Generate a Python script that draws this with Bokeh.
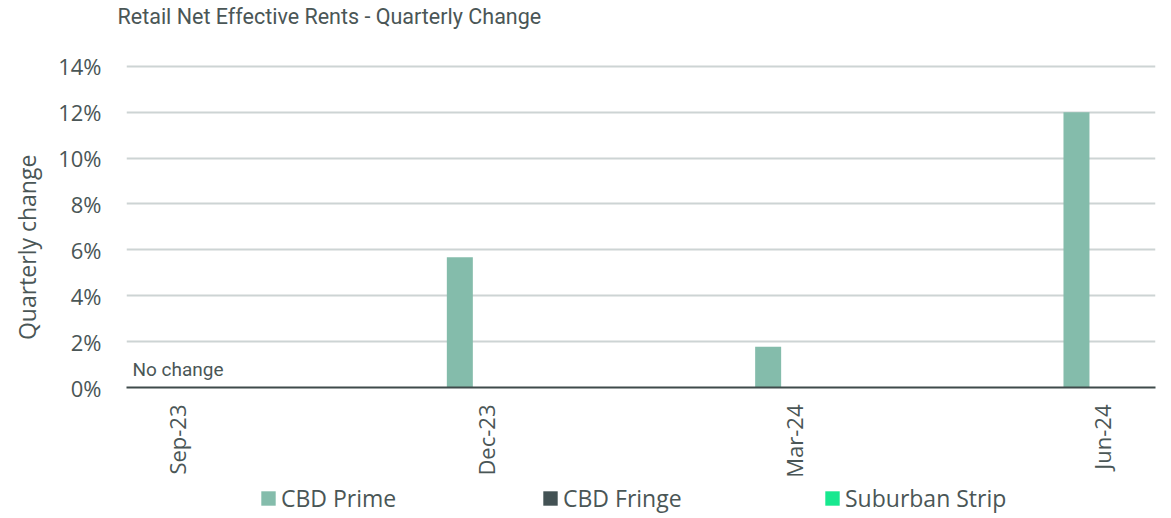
from bokeh.plotting import figure
from bokeh.models import (ColumnDataSource, FixedTicker, NumeralTickFormatter, Legend,
                          LegendItem, Label, Range1d)
from bokeh.layouts import column
from bokeh.embed import file_html
from bokeh.resources import INLINE
import math

quarters = ["Sep-23", "Dec-23", "Mar-24", "Jun-24"]
cbd_prime = [0.0, 0.0568, 0.0178, 0.1200]
cbd_fringe = [0.0, 0.0, 0.0, 0.0]
suburban_strip = [0.0, 0.0, 0.0, 0.0]
y_ticks = [0.0, 0.02, 0.04, 0.06, 0.08, 0.10, 0.12, 0.14]
series_names = ["CBD Prime", "CBD Fringe", "Suburban Strip"]
series_colors = ["#84bcab", "#435254", "#17e88f"]

TXT = "#4a5656"
BW = 0.0843
xs = list(range(len(quarters)))

p = figure(width=1171, height=480, output_backend="svg", toolbar_location=None,
           x_range=Range1d(-0.1654, 3.172), y_range=Range1d(0, 0.15604),
           min_border_left=126, min_border_right=16, min_border_top=27, min_border_bottom=93)
p.outline_line_color = None
p.background_fill_color = "white"

for k, (name, vals, col) in enumerate(zip(series_names, [cbd_prime, cbd_fringe, suburban_strip], series_colors)):
    src = ColumnDataSource(dict(x=[x + (k - 1) * BW for x in xs], top=vals))
    p.vbar(x="x", top="top", width=BW, source=src, fill_color=col, line_color=None)

p.title.text = "Retail Net Effective Rents - Quarterly Change"
p.title.text_font = "Roboto"
p.title.text_font_size = "21.5px"
p.title.text_font_style = "normal"
p.title.text_color = TXT
p.title.align = "left"
p.title.offset = -9
p.title.standoff = 2

p.xgrid.grid_line_color = None
p.ygrid.grid_line_color = "#cdd4d4"
p.ygrid.grid_line_width = 2
p.ygrid.ticker = FixedTicker(ticks=y_ticks)

p.yaxis.ticker = FixedTicker(ticks=y_ticks)
p.yaxis.formatter = NumeralTickFormatter(format="0%")
p.yaxis.axis_line_color = None
p.yaxis.major_tick_line_color = None
p.yaxis.minor_tick_line_color = None
p.yaxis.major_tick_out = 0
p.yaxis.major_label_standoff = 25
p.yaxis.major_label_text_font = "Open Sans"
p.yaxis.major_label_text_font_size = "22px"
p.yaxis.major_label_text_color = TXT
p.yaxis.axis_label = "Quarterly change" + "\u00a0" * 13
p.yaxis.axis_label_text_font = "Open Sans"
p.yaxis.axis_label_text_font_size = "23px"
p.yaxis.axis_label_text_font_style = "normal"
p.yaxis.axis_label_text_color = TXT
p.yaxis.axis_label_standoff = 12

p.xaxis.ticker = FixedTicker(ticks=xs)
p.xaxis.major_label_overrides = {i: q for i, q in enumerate(quarters)}
p.xaxis.major_label_orientation = math.pi / 2
p.xaxis.axis_line_color = "#3f4b4b"
p.xaxis.axis_line_width = 2
p.xaxis.major_tick_line_color = None
p.xaxis.minor_tick_line_color = None
p.xaxis.major_tick_out = 0
p.xaxis.major_label_standoff = 17
p.xaxis.major_label_text_font = "Open Sans"
p.xaxis.major_label_text_font_size = "22px"
p.xaxis.major_label_text_color = TXT

p.add_layout(Label(x=-0.146, y=0.0078, text="No change", text_font="Roboto",
                   text_font_size="19px", text_color=TXT, text_baseline="alphabetic"))

# legend strip below the chart
lf = figure(width=1171, height=38, output_backend="svg", toolbar_location=None,
            x_range=Range1d(0, 1), y_range=Range1d(0, 1), x_axis_type=None, y_axis_type=None,
            min_border=0, min_border_left=0, min_border_right=0, min_border_top=0, min_border_bottom=0)
lf.outline_line_color = None
lf.xgrid.grid_line_color = None
lf.ygrid.grid_line_color = None
leg_renderers = []
for name, col in zip(series_names, series_colors):
    r = lf.vbar(x=[-10.0], top=[0.0], width=0.1, fill_color=col, line_color=None)
    leg_renderers.append(r)

legend = Legend(items=[LegendItem(label=n, renderers=[r]) for n, r in zip(series_names, leg_renderers)],
                orientation="horizontal", location=(133, 4))
legend.padding = 0
legend.margin = 0
legend.spacing = 0
legend.glyph_width = 18
legend.glyph_height = 18
legend.label_standoff = 4
legend.label_width = 260
legend.label_text_font = "Open Sans"
legend.label_text_font_size = "23px"
legend.label_text_color = TXT
legend.border_line_color = None
legend.background_fill_alpha = 0
lf.add_layout(legend, "center")

open("out.html", "w").write(file_html(column(p, lf, spacing=0), INLINE))
